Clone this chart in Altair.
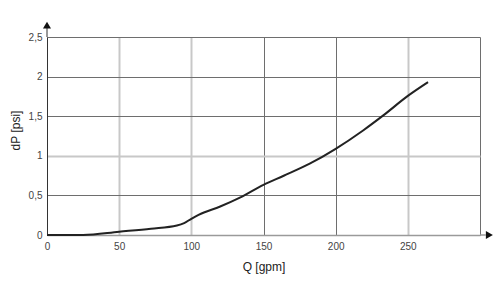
import altair as alt
import pandas as pd

# Curve readings
q_gpm = [0, 10, 25, 50, 72, 90, 95, 100, 105, 120, 134, 150, 164, 182, 200, 219, 233, 250, 264]
dp_psi = [0.0, 0.0, 0.0, 0.042, 0.08, 0.12, 0.15, 0.205, 0.255, 0.36, 0.475, 0.634, 0.748, 0.90, 1.088, 1.32, 1.51, 1.756, 1.93]

x_ticks = [0, 50, 100, 150, 200, 250, 300]
y_ticks = [0, 0.5, 1, 1.5, 2, 2.5]

df = pd.DataFrame({"Q": q_gpm, "dP": dp_psi})

FONT = "Liberation Sans"
DARK = "#6e6e6e"
LIGHT = "#c8c8c8"

xscale = alt.Scale(domain=[0, 300], nice=False, zero=False)
yscale = alt.Scale(domain=[0, 2.5], nice=False, zero=False)

x_axis = alt.Axis(
    values=x_ticks,
    ticks=False,
    labelPadding=6,
    labelFontSize=10,
    labelColor="#444444",
    labelFont=FONT,
    labelFlush=False,
    labelExpr="datum.value == 300 ? '' : datum.label",
    title="Q [gpm]",
    titleFont=FONT,
    titleFontSize=12,
    titleFontWeight="normal",
    titleColor="#222222",
    titlePadding=10,
    domainColor="#9a9a9a",
    domainWidth=1.5,
    gridColor=alt.condition("datum.value == 50 || datum.value == 100 || datum.value == 250",
                            alt.value(LIGHT), alt.value(DARK)),
    gridWidth=alt.condition("datum.value == 50 || datum.value == 100 || datum.value == 250",
                            alt.value(2), alt.value(1)),
)

y_axis = alt.Axis(
    values=y_ticks,
    ticks=False,
    labelPadding=5,
    labelFontSize=10,
    labelColor="#444444",
    labelFont=FONT,
    labelFlush=False,
    labelOverlap=False,
    labelExpr="replace(format(datum.value, '~g'), '.', ',')",
    title="dP [psi]",
    titleFont=FONT,
    titleFontSize=12,
    titleFontWeight="normal",
    titleColor="#222222",
    titlePadding=6,
    titleY=93,
    domainColor="#333333",
    domainWidth=1,
    gridColor=alt.condition("datum.value == 1", alt.value(LIGHT), alt.value(DARK)),
    gridWidth=alt.condition("datum.value == 1", alt.value(2), alt.value(1)),
)

def X(field):
    return alt.X(field, scale=xscale, axis=x_axis, title="Q [gpm]")

def Y(field):
    return alt.Y(field, scale=yscale, axis=y_axis, title="dP [psi]")

curve = alt.Chart(df).mark_line(color="#222222", strokeWidth=2, interpolate="monotone").encode(
    x=X("Q:Q"), y=Y("dP:Q")
)

# Axis arrows (in data units, just beyond the domain)
yarrow_line = alt.Chart(pd.DataFrame({"x": [0], "y": [2.5], "y2": [2.62]})).mark_rule(
    color="#333333", strokeWidth=1
).encode(x=X("x:Q"), y=Y("y:Q"), y2="y2:Q")
yarrow = alt.Chart(pd.DataFrame({"x": [0], "y": [2.65]})).mark_point(
    shape="triangle-up", filled=True, color="#111111", size=65, opacity=1
).encode(x=X("x:Q"), y=Y("y:Q"))

xarrow_line = alt.Chart(pd.DataFrame({"x": [300], "x2": [304], "y": [0]})).mark_rule(
    color="#9a9a9a", strokeWidth=1.5
).encode(x=X("x:Q"), x2="x2:Q", y=Y("y:Q"))
xarrow = alt.Chart(pd.DataFrame({"x": [306.5], "y": [0]})).mark_point(
    shape="triangle-right", filled=True, color="#111111", size=65, opacity=1
).encode(x=X("x:Q"), y=Y("y:Q"))

chart = (
    alt.layer(curve, yarrow_line, yarrow, xarrow_line, xarrow)
    .properties(
        width=433,
        height=198,
        padding={"left": 47, "top": 37, "right": 20, "bottom": 56},
        autosize=alt.AutoSizeParams(type="none"),
        background="white",
    )
    .configure_view(stroke=None)
)

chart.save("out.html", embed_options={"renderer": "svg", "actions": False})
